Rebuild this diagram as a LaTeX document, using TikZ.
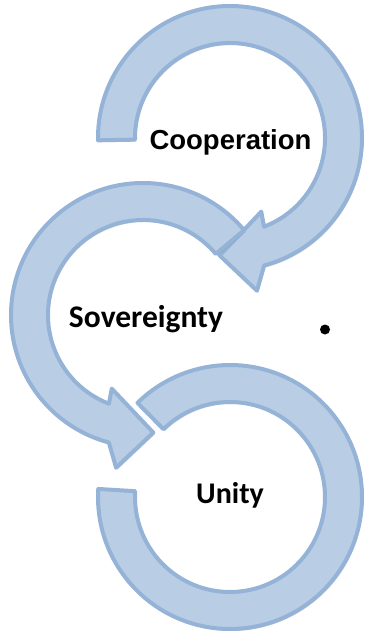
\documentclass[tikz,border=0pt]{standalone}
\usepackage{fontspec}
\setmainfont{Liberation Sans}
\newfontfamily\calibrifont{Carlito}
\usepackage{tikz}
\usetikzlibrary{shadows}
\usepackage{xcolor}

\definecolor{arcfill}{HTML}{B9CDE5}
\definecolor{arcline}{HTML}{95B3D7}

\begin{document}
\begin{tikzpicture}[x=1pt,y=1pt]
\tikzset{
  band/.style={fill=arcfill,draw=arcline,line width=4pt,line join=round,
    drop shadow={opacity=0.22,shadow xshift=1.5pt,shadow yshift=-2pt,fill=black!60,draw=none}},
  lbl/.style={anchor=base,inner sep=0pt,font=\fontsize{27.5}{32}\selectfont\bfseries},
  lblc/.style={anchor=base,inner sep=0pt,font=\calibrifont\fontsize{30}{34}\selectfont\bfseries}
}
\useasboundingbox (0,0) rectangle (366,-634);

% Cooperation arc
\begin{scope}[shift={(230,-138)}]
  \draw[band] (181:132) arc[start angle=181,end angle=-75,radius=132]
    -- (-80:155) -- (-95:118) -- (-67:80) -- (-69:95)
    arc[start angle=-69,end angle=181,radius=95] -- cycle;
\end{scope}

% Sovereignty arc
\begin{scope}[shift={(143,-315)}]
  \draw[band] (40:132) arc[start angle=40,end angle=255,radius=132]
    -- (260:155) -- (275:118) -- (247:80) -- (249:95)
    arc[start angle=249,end angle=40,radius=95] -- cycle;
\end{scope}

% Unity arc
\begin{scope}[shift={(230,-497)}]
  \draw[band] (176.5:132) arc[start angle=176.5,end angle=494.5,radius=132]
    -- (494.5:95)
    arc[start angle=494.5,end angle=176.5,radius=95] -- cycle;
\end{scope}

\node[lbl] (coop) at (230.5,-149) {Cooperation};
\node[lblc,font=\calibrifont\fontsize{31.5}{34}\selectfont\bfseries] (sov) at (146,-327) {Sovereignty};
\node[lblc] (unity) at (230,-503) {Unity};
\node[circle,fill=black,inner sep=0pt,minimum size=10pt] (dot) at (325,-329.5) {};
\end{tikzpicture}
\end{document}
